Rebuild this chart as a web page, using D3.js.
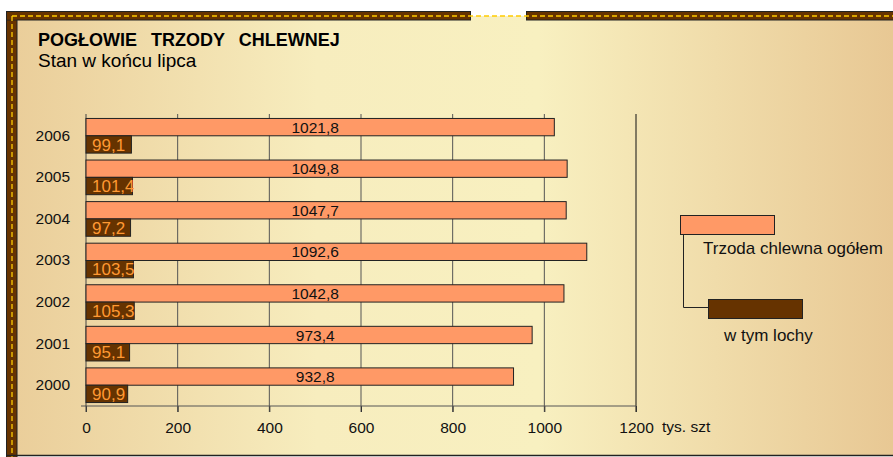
<!DOCTYPE html>
<html lang="pl">
<head>
    <meta charset="UTF-8">
    <title>Pogłowie trzody chlewnej</title>
    <script src="https://d3js.org/d3.v7.min.js"></script>
    <style>
        body { margin: 0; background: #fff; }
        svg { display: block; font-family: "Liberation Sans", Arial, sans-serif; }
    </style>
</head>
<body>
    <svg width="893" height="457"></svg>
    <script>
        // data
        const years = ["2006", "2005", "2004", "2003", "2002", "2001", "2000"];
        const totalPigs = [1021.8, 1049.8, 1047.7, 1092.6, 1042.8, 973.4, 932.8];
        const sows = [99.1, 101.4, 97.2, 103.5, 105.3, 95.1, 90.9];
        const xTicks = [0, 200, 400, 600, 800, 1000, 1200];
        const seriesNames = ["Trzoda chlewna ogółem", "w tym lochy"];

        const W = 893, H = 457;
        const fmt = v => String(v.toFixed(1)).replace(".", ",");

        const svg = d3.select("svg");

        // background gradient
        const defs = svg.append("defs");
        const grad = defs.append("linearGradient").attr("id", "bg")
            .attr("x1", "0%").attr("x2", "100%").attr("y1", "0%").attr("y2", "0%");
        grad.append("stop").attr("offset", "0%").attr("stop-color", "#eacd99");
        grad.append("stop").attr("offset", "35%").attr("stop-color", "#f7edbe");
        grad.append("stop").attr("offset", "60%").attr("stop-color", "#f8f0c0");
        grad.append("stop").attr("offset", "100%").attr("stop-color", "#e8c894");

        svg.append("rect")
            .attr("x", 6).attr("y", 16)
            .attr("width", W - 6).attr("height", 440)
            .attr("fill", "url(#bg)");

        // frame bands
        const frame = svg.append("g");
        frame.append("rect").attr("x", 6.5).attr("y", 11.5).attr("width", 10.5).attr("height", 446)
            .attr("fill", "#663300").attr("stroke", "#222");
        frame.append("rect").attr("x", 6.5).attr("y", 11.5).attr("width", 464).attr("height", 8.5)
            .attr("fill", "#663300").attr("stroke", "#222");
        frame.append("rect").attr("x", 526.5).attr("y", 11.5).attr("width", 380).attr("height", 8.5)
            .attr("fill", "#663300").attr("stroke", "#222");
        frame.append("rect").attr("x", 7).attr("y", 12).attr("width", 9.5).attr("height", 7.5)
            .attr("fill", "#663300");
        frame.append("line").attr("x1", 12).attr("x2", W).attr("y1", 16).attr("y2", 16)
            .attr("stroke", "#ffcc00").attr("stroke-width", 1.3).attr("stroke-dasharray", "5,3");
        frame.append("line").attr("x1", 12).attr("x2", 12).attr("y1", 16).attr("y2", H)
            .attr("stroke", "#ffcc00").attr("stroke-width", 1.3).attr("stroke-dasharray", "5,3");
        frame.append("line").attr("x1", 6).attr("x2", W).attr("y1", 455.5).attr("y2", 455.5)
            .attr("stroke", "#222").attr("stroke-width", 1.5);

        // titles
        svg.append("text").attr("x", 38).attr("y", 46)
            .attr("font-size", 18).attr("font-weight", "bold")
            .style("word-spacing", "9px")
            .text("POGŁOWIE TRZODY CHLEWNEJ");
        svg.append("text").attr("x", 38).attr("y", 67)
            .attr("font-size", 19)
            .text("Stan w końcu lipca");

        // scales
        const x = d3.scaleLinear().domain([0, 1200]).range([86, 636]);
        const y = d3.scaleBand().domain(years).range([115, 406]);
        const inner = d3.scaleBand().domain(["total", "sows"])
            .range([0, y.bandwidth()]).paddingOuter(0.2);

        // grid lines
        svg.append("g").selectAll("line")
            .data(xTicks.slice(1))
            .join("line")
            .attr("x1", d => x(d)).attr("x2", d => x(d))
            .attr("y1", 114).attr("y2", 412)
            .attr("stroke", d => d === 1200 ? "#111" : "#555")
            .attr("stroke-width", 1);

        // x axis
        const xAxis = svg.append("g")
            .attr("transform", "translate(0,406)")
            .call(d3.axisBottom(x).tickValues(xTicks).tickFormat(d3.format("d"))
                .tickSize(6).tickSizeOuter(0).tickPadding(10));
        xAxis.select(".domain").remove();
        xAxis.selectAll(".tick line").attr("stroke", "#333");
        xAxis.selectAll(".tick text")
            .attr("font-size", 15.5).attr("fill", "#111")
            .attr("font-family", "Liberation Sans, Arial, sans-serif");
        svg.append("line").attr("x1", 81).attr("x2", 636).attr("y1", 406).attr("y2", 406)
            .attr("stroke", "#555");
        svg.append("text").attr("x", 662).attr("y", 432)
            .attr("font-size", 15.5).attr("fill", "#111")
            .text("tys. szt");

        // y axis
        const yAxis = svg.append("g")
            .attr("transform", "translate(86,0)")
            .call(d3.axisLeft(y).tickSize(0).tickPadding(16));
        yAxis.select(".domain").remove();
        yAxis.selectAll(".tick text")
            .attr("font-size", 15.5).attr("fill", "#111")
            .attr("font-family", "Liberation Sans, Arial, sans-serif");
        svg.append("line").attr("x1", 86).attr("x2", 86).attr("y1", 114).attr("y2", 412)
            .attr("stroke", "#444");

        // bars
        const rows = years.map((yr, i) => ({ year: yr, total: totalPigs[i], sows: sows[i] }));

        const g = svg.append("g");
        g.selectAll(".bar-total")
            .data(rows)
            .join("rect")
            .attr("class", "bar-total")
            .attr("x", x(0))
            .attr("y", d => y(d.year) + inner("total"))
            .attr("width", d => x(d.total) - x(0))
            .attr("height", inner.bandwidth())
            .attr("fill", "#ff9966").attr("stroke", "#222").attr("stroke-width", 1);

        g.selectAll(".bar-sows")
            .data(rows)
            .join("rect")
            .attr("class", "bar-sows")
            .attr("x", x(0))
            .attr("y", d => y(d.year) + inner("sows"))
            .attr("width", d => x(d.sows) - x(0))
            .attr("height", inner.bandwidth())
            .attr("fill", "#663300").attr("stroke", "#222").attr("stroke-width", 1);

        // labels
        g.selectAll(".lbl-total")
            .data(rows)
            .join("text")
            .attr("class", "lbl-total")
            .attr("x", x(500))
            .attr("y", d => y(d.year) + inner("total") + inner.bandwidth() / 2)
            .attr("dy", "0.36em")
            .attr("text-anchor", "middle")
            .attr("font-size", 15.5).attr("fill", "#111")
            .text(d => fmt(d.total));

        g.selectAll(".lbl-sows")
            .data(rows)
            .join("text")
            .attr("class", "lbl-sows")
            .attr("x", x(0) + 6)
            .attr("y", d => y(d.year) + inner("sows") + inner.bandwidth() / 2)
            .attr("dy", "0.36em")
            .attr("font-size", 17).attr("fill", "#ff9933")
            .text(d => fmt(d.sows));

        // legend
        const leg = svg.append("g");
        leg.append("polyline")
            .attr("points", "683.5,234 683.5,307.5 708,307.5")
            .attr("fill", "none").attr("stroke", "#222");
        leg.append("rect").attr("x", 680.5).attr("y", 215.5).attr("width", 94).attr("height", 19)
            .attr("fill", "#ff9966").attr("stroke", "#222");
        leg.append("rect").attr("x", 708.5).attr("y", 299.5).attr("width", 94).attr("height", 19)
            .attr("fill", "#663300").attr("stroke", "#222");
        leg.append("text").attr("x", 703).attr("y", 254)
            .attr("font-size", 17).attr("fill", "#111").text(seriesNames[0]);
        leg.append("text").attr("x", 724).attr("y", 341)
            .attr("font-size", 17).attr("fill", "#111").text(seriesNames[1]);
    </script>
</body>
</html>
